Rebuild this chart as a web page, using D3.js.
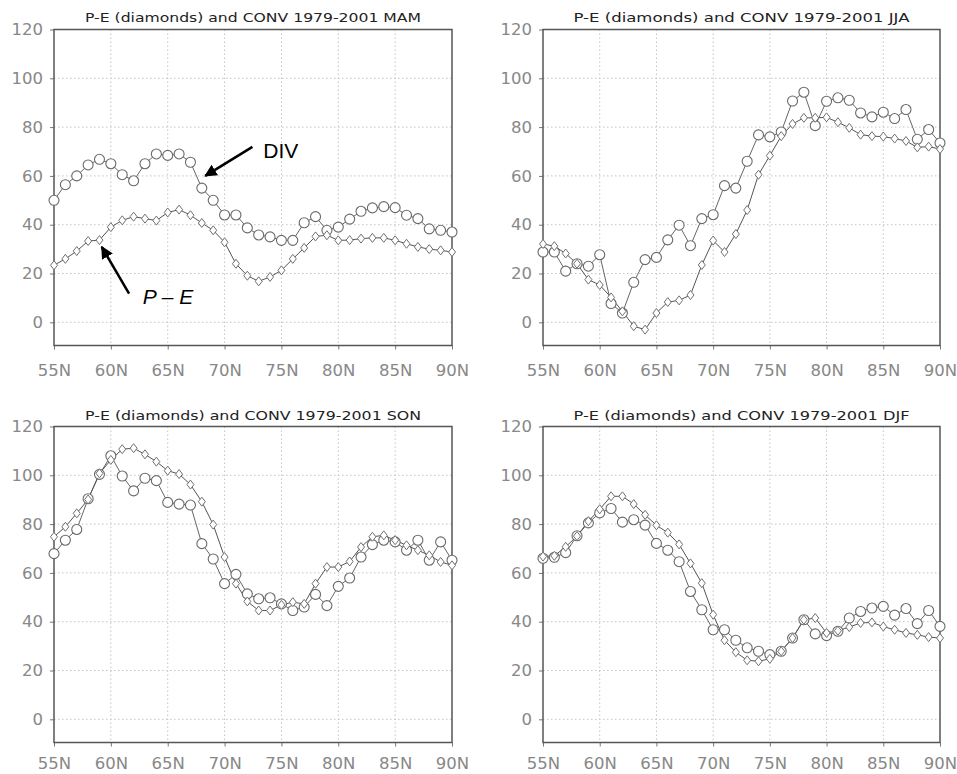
<!DOCTYPE html>
<html lang="en">
<head>
  <meta charset="UTF-8">
  <title>P-E and CONV 1979-2001</title>
  <style>
    body { margin: 0; background: #fff; }
    .tick text { font-family: "DejaVu Sans", sans-serif; font-size: 16.5px; fill: #888; }
    .tick line { stroke: #777; }
    .domain { display: none; }
    .grid line { stroke: #c4c4c4; stroke-dasharray: 1.5 2.5; }
    .title { font-family: "DejaVu Sans", sans-serif; font-size: 12.5px; fill: #222; }
    .note { font-family: "Liberation Sans", Arial, sans-serif; font-size: 21px; fill: #000; }
  </style>
</head>
<body>
<div id="chart"></div>
<script src="https://d3js.org/d3.v7.min.js"></script>
<script>
  // latitudes (deg N)
  const lats = [55,56,57,58,59,60,61,62,63,64,65,66,67,68,69,70,71,72,73,74,75,76,77,78,79,80,81,82,83,84,85,86,87,88,89,90];
  const xTicks = [55,60,65,70,75,80,85,90];
  const yTicks = [0,20,40,60,80,100,120];

  // circles = CONV, diamonds = P-E
  const mamConv = [50,56.4,60,64.5,66.8,65,60.5,58,65,69,68.4,69,65.6,55,50,44,44,38.7,35.8,35,33.6,33.6,40.8,43.3,37.7,39,42.3,45.5,46.9,47.4,47,43.9,42.5,38.3,37.7,37];
  const mamPE   = [23.4,26,29.2,33.3,33.7,39,41.8,43.3,42.5,41.7,45,46.2,43.9,40.7,37.7,32.8,24,19.1,16.8,18.6,21.3,26,30.5,35.2,35.7,33.6,33.7,34.3,34.6,34.6,33.6,32.2,30.9,30,29.5,28.8];
  const jjaConv = [28.8,28.8,21,24,23,27.7,7.7,3.8,16.4,25.7,26.6,33.8,39.8,31.4,42.5,44.1,56,55,66,76.8,76,78,90.7,94.3,80.6,90.6,92,91,85.8,84.2,86.1,83.5,87.2,75,79,73.5];
  const jjaPE   = [32.1,31.2,28.2,24,17.5,15.3,10.2,4.5,-1.6,-3,3.8,8.3,9,11.2,23.5,33.5,28.8,36.2,46,60.5,68.3,76.3,81.3,83.8,83.8,84,82,79.7,76.9,76.3,76.1,75.3,74.3,71.7,72,71];
  const sonConv = [67.9,73.4,77.8,90.4,100.4,108,99.7,93.6,98.8,97.8,88.9,88.2,87.8,72,65.7,55.6,59.4,51.4,49.4,49.8,47.3,44.6,46,51.2,46.6,54.5,57.9,66.5,71.6,73.4,72.7,69.3,73.4,65.2,72.7,65.2];
  const sonPE   = [74.8,78.9,84.4,90.1,100.8,106.3,110.7,111.1,108.6,105.6,101.9,100.5,96.2,89.2,79.8,66.5,55.6,48.3,44.6,44.6,46.9,48,47.3,55.6,62.4,62.4,64.7,70.6,74.8,75.4,73.4,71.3,69.3,67.2,64.5,63.1];
  const djfConv = [66,66.4,68.3,75.2,80.5,84.6,86.4,80.8,81.8,79.6,72.1,69.3,64.6,52.4,44.9,36.7,36.7,32.4,29.3,27.9,26.5,27.9,33.3,40.8,35,34.3,36.1,41.5,44.2,45.6,46.3,42.7,45.4,39.2,44.6,38.1];
  const djfPE   = [66.7,67,70.7,75.1,81.2,86.1,91.4,91.4,88.2,83.8,79.5,76.5,71.7,63.9,55.8,42.9,32.4,27.5,24.2,23.8,24.8,27.9,33.3,40.8,41.5,35.4,36.3,37.8,39.5,39.7,38,36.7,35.4,34.6,33.7,33.3];

  const seasons = ["MAM", "JJA", "SON", "DJF"];
  const convSeries = [mamConv, jjaConv, sonConv, djfConv];
  const peSeries = [mamPE, jjaPE, sonPE, djfPE];

  // annotation arrows on the MAM panel, in data units [lat, value]
  const divArrow = [[72.45, 71.9], [68.3, 60]];
  const peArrow = [[61.6, 11.8], [59.2, 30.9]];
  const divLabel = [73.4, 67.5];
  const peLabel = [62.8, 7.7];

  const W = 957, H = 774;
  const ph = 316;
  const lefts = [54, 543], widths = [398, 397], tops = [29.5, 426.5];

  const svg = d3.select("#chart").append("svg")
    .attr("width", W).attr("height", H);

  svg.append("defs").append("marker")
    .attr("id", "arrow")
    .attr("viewBox", "0 0 10 10")
    .attr("refX", 9).attr("refY", 5)
    .attr("markerWidth", 5).attr("markerHeight", 5)
    .attr("markerUnits", "strokeWidth")
    .attr("orient", "auto")
    .append("path").attr("d", "M0,0L10,5L0,10z").attr("fill", "#000");

  const diamond = "M0,-4.5L3.5,0L0,4.5L-3.5,0Z";

  seasons.forEach((s, i) => {
    const ox = lefts[i % 2], oy = tops[Math.floor(i / 2)];
    const pw = widths[i % 2];
    const g = svg.append("g").attr("transform", `translate(${ox},${oy})`);

    const x = d3.scaleLinear().domain([55, 90]).range([0, pw]);
    const y = d3.scaleLinear().domain([-9.5, 120]).range([ph, 0]);

    // grid
    g.append("g").attr("class", "grid")
      .selectAll("line").data(xTicks.slice(1, -1)).join("line")
      .attr("x1", d => x(d)).attr("x2", d => x(d)).attr("y1", 0).attr("y2", ph);
    g.append("g").attr("class", "grid")
      .selectAll("line").data(yTicks.slice(0, -1)).join("line")
      .attr("x1", 0).attr("x2", pw).attr("y1", d => y(d)).attr("y2", d => y(d));

    // axes
    g.append("g").attr("transform", `translate(0,${ph})`)
      .call(d3.axisBottom(x).tickValues(xTicks).tickSize(4)
        .tickPadding(i < 2 ? 15 : 11).tickFormat(d => d + "N"));
    g.append("g")
      .call(d3.axisLeft(y).tickValues(yTicks).tickSize(4).tickPadding(7));

    // frame
    g.append("rect").attr("width", pw).attr("height", ph)
      .attr("fill", "none").attr("stroke", "#555").attr("stroke-width", 1.5);

    // title
    g.append("text").attr("class", "title")
      .attr("x", pw / 2).attr("y", i < 2 ? -8 : -7)
      .attr("text-anchor", "middle")
      .attr("textLength", 336).attr("lengthAdjust", "spacingAndGlyphs")
      .text(`P-E (diamonds) and CONV 1979-2001 ${s}`);

    const line = d3.line().x((d, j) => x(lats[j])).y(d => y(d));
    const conv = convSeries[i], pe = peSeries[i];

    g.append("path").datum(conv).attr("d", line)
      .attr("fill", "none").attr("stroke", "#666").attr("stroke-width", 1);
    g.append("path").datum(pe).attr("d", line)
      .attr("fill", "none").attr("stroke", "#555").attr("stroke-width", 1);

    g.append("g").selectAll("circle").data(conv).join("circle")
      .attr("cx", (d, j) => x(lats[j])).attr("cy", d => y(d)).attr("r", 5)
      .attr("fill", "#fff").attr("stroke", "#6a6a6a").attr("stroke-width", 1.1);
    g.append("g").selectAll("path").data(pe).join("path")
      .attr("d", diamond)
      .attr("transform", (d, j) => `translate(${x(lats[j])},${y(d)})`)
      .attr("fill", "#fff").attr("stroke", "#707070").attr("stroke-width", 1);

    if (s === "MAM") {
      [divArrow, peArrow].forEach(a => {
        g.append("line")
          .attr("x1", x(a[0][0])).attr("y1", y(a[0][1]))
          .attr("x2", x(a[1][0])).attr("y2", y(a[1][1]))
          .attr("stroke", "#000").attr("stroke-width", 2.5)
          .attr("marker-end", "url(#arrow)");
      });
      g.append("text").attr("class", "note")
        .attr("x", x(divLabel[0])).attr("y", y(divLabel[1])).text("DIV");
      g.append("text").attr("class", "note").attr("font-style", "italic")
        .attr("x", x(peLabel[0])).attr("y", y(peLabel[1])).text("P \u2013 E");
    }
  });
</script>
</body>
</html>
